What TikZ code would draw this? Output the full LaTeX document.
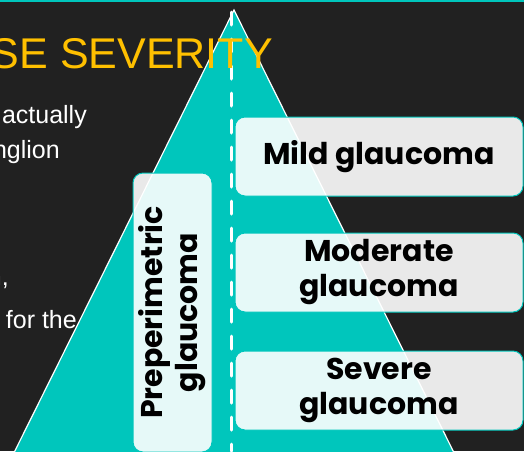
\documentclass[tikz,border=0pt]{standalone}
\usepackage{fontspec}
\setmainfont{Liberation Sans}
\newfontfamily\gothic{Poppins}
\usetikzlibrary{positioning}
\definecolor{bg}{RGB}{33,33,33}
\definecolor{teal1}{RGB}{0,198,188}
\definecolor{gold}{RGB}{255,192,0}

\begin{document}
\begin{tikzpicture}[x=1pt,y=-1pt,
    stage/.style={draw=teal1,line width=1pt,fill=white,fill opacity=0.9,text opacity=1,
      rounded corners=10pt,inner sep=0pt,align=center,
      font=\gothic\bfseries\fontsize{30}{35}\selectfont},
    frag/.style={white,anchor=base east,inner sep=0pt,font=\fontsize{25}{30}\selectfont}]
    \useasboundingbox (0,0) rectangle (524,451);
    \clip (0,0) rectangle (524,451);
    \fill[bg] (0,0) rectangle (524,451);
    \fill[teal1] (0,0) rectangle (524,1.5);
    % pyramid and its axis
    \coordinate (apex) at (234,10);
    \coordinate (top) at (231,12);
    \coordinate (foot) at (231,451);
    \draw[white,line width=1.2pt,fill=teal1] (apex) -- (5.4,470) -- (462.6,470) -- cycle;
    \draw[white,line width=3pt,line cap=round,dash pattern=on 13pt off 14pt] (top) -- (foot);
    % slide text, cut at the left
    \node[gold,anchor=base east,inner sep=0pt,font=\fontsize{43}{50}\selectfont] (title) at (273,68) {SE SEVERITY};
    \node[frag] (line1) at (87,123) {actually};
    \node[frag] (line2) at (60,158) {nglion};
    \node[frag] (line3) at (9,285) {n,};
    \node[frag] (line4) at (77,328) {for the};
    % stages
    \node[stage,minimum width=288pt,minimum height=79pt] (mild) at (379,156.5) {Mild glaucoma};
    \node[stage,minimum width=288pt,minimum height=79pt,below=36pt of mild] (moderate) {Moderate\\glaucoma};
    \node[stage,minimum width=288pt,minimum height=79pt,below=38pt of moderate] (severe) {Severe\\glaucoma};
    \node[stage,rotate=90,minimum width=279pt,minimum height=79pt] (preperi) at (172.5,312.5) {Preperimetric\\glaucoma};
\end{tikzpicture}
\end{document}
